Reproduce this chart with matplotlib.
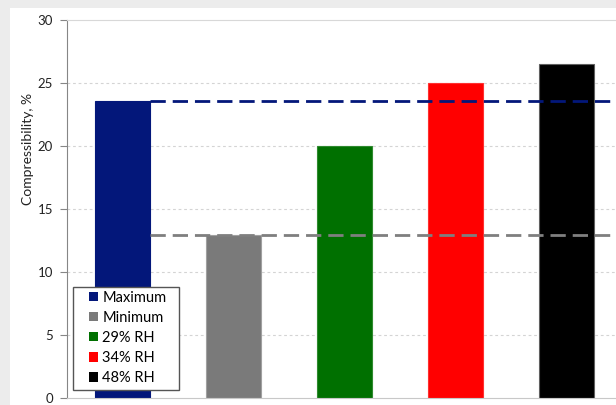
import matplotlib
matplotlib.use("Agg")
import matplotlib.pyplot as plt
from matplotlib.patches import Patch, Rectangle
from matplotlib.transforms import IdentityTransform

plt.rcParams['font.family'] = ['Lato', 'DejaVu Sans']
plt.rcParams['lines.scale_dashes'] = False

categories = ["Maximum", "Minimum", "29% RH", "34% RH", "48% RH"]
values = [23.6, 12.9, 20.0, 25.0, 26.5]
colors = ["#03177a", "#7a7a7a", "#007000", "#ff0000", "#000000"]
edge_colors = ["#03177a", "#a0a0a0", "#2f8a2f", "#ff3030", "#606060"]
max_level = values[0]
min_level = values[1]
yticks = [0, 5, 10, 15, 20, 25, 30]

W, H = 616, 405
fig = plt.figure(figsize=(W / 100, H / 100), dpi=100, facecolor="#ececec")

# white slide panel behind the chart
fig.add_artist(Rectangle((10 / W, 0), 1, 1 - 8 / H, transform=fig.transFigure,
                         facecolor="white", edgecolor="none", zorder=-1))

ax = fig.add_axes([67 / W, 7 / H, 555 / W, 378 / H])
ax.set_facecolor("white")

x = list(range(len(categories)))
ax.bar(x, values, width=0.5, color=colors, edgecolor=edge_colors, linewidth=0.8, zorder=2)

ax.hlines(max_level, 0.25, 4.5, colors="#03177a", linewidth=2.0,
          linestyles=(0, (11, 5)), zorder=3)
ax.hlines(min_level, 0.25, 4.5, colors="#7f7f7f", linewidth=2.0,
          linestyles=(0, (11, 5)), zorder=3)

ax.set_xlim(-0.5, 4.5)
ax.set_ylim(0, 30)
ax.set_yticks(yticks)
ax.set_xticks([])
ax.tick_params(axis="y", direction="out", length=5, color="#868686",
               labelsize=9.5, labelcolor="#222222", pad=5)
for yv in yticks[1:-1]:
    ax.axhline(yv, color="#d4d4d4", linewidth=0.8, linestyle=(0, (2, 2)), zorder=1)

ax.spines["left"].set_color("#868686")
ax.spines["bottom"].set_color("#c8c8c8")
ax.spines["top"].set_color("#d8d8d8")
ax.spines["right"].set_visible(False)

ax.set_ylabel("Compressibility, %", fontsize=10, color="#222222")
ax.yaxis.set_label_coords(-0.06, 0.659)

# legend entries without their own frame; a wider box is drawn around them
handles = [Patch(facecolor=c, edgecolor="none") for c in colors]
leg = ax.legend(handles, categories, loc="center left",
                bbox_to_anchor=(89 / W, 1 - 338 / H), bbox_transform=fig.transFigure,
                fontsize=10.5, frameon=False,
                handlelength=0.6, handleheight=0.6, handletextpad=0.3,
                labelspacing=0.42, borderpad=0, borderaxespad=0)
leg.set_zorder(6)

fig.canvas.draw()
bb = leg.get_window_extent()
pad_v = max((103 - bb.height) / 2, 2)
frame = Rectangle((bb.x0 - 16, bb.y0 - pad_v), bb.width + 16 + 13, bb.height + 2 * pad_v,
                  transform=IdentityTransform(), facecolor="white",
                  edgecolor="#555555", linewidth=1.0, zorder=5, clip_on=False)
ax.add_artist(frame)

fig.savefig("out.png", dpi=100, facecolor=fig.get_facecolor())
